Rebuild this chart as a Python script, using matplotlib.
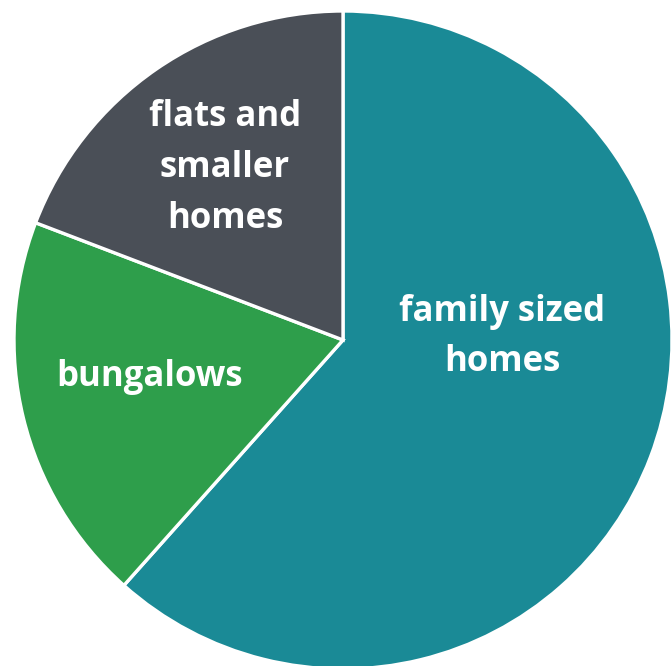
import matplotlib.pyplot as plt

# Dados do gráfico
categorias = ['family sized\nhomes', 'bungalows', 'flats and\nsmaller\nhomes']
valores = [61.6, 19.2, 19.2]
cores = ['#1A8A96', '#2E9E4B', '#4A4F57']

# Posições dos rótulos (pixels da imagem: x, y a partir do topo)
pos_rotulos = [(502, 337), (150, 377), (225, 168)]

fig = plt.figure(figsize=(6.71, 6.66), dpi=100)
ax = fig.add_axes([0, 0, 1, 1])

cx, cy, r = 343, 340, 329
ax.pie(valores, colors=cores, startangle=90, counterclock=False, radius=1,
       wedgeprops=dict(edgecolor='white', linewidth=2.4))

for texto, (px, py) in zip(categorias, pos_rotulos):
    ax.text((px - cx) / r, (cy - py) / r, texto, ha='center', va='center',
            color='white', fontsize=25, fontweight='bold', family='Open Sans',
            linespacing=1.55)

ax.set_xlim(-cx / r, (671 - cx) / r)
ax.set_ylim((cy - 666) / r, cy / r)
ax.set_aspect('auto')
ax.axis('off')

plt.savefig('out.png', dpi=100)
